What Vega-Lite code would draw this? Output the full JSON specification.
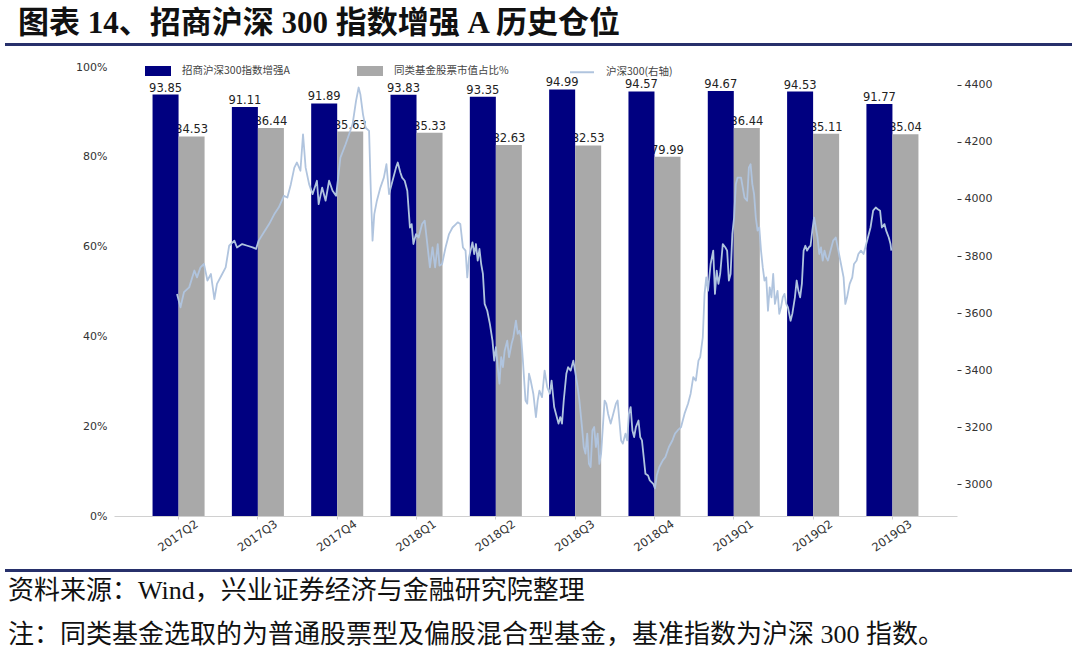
{
  "$schema": "https://vega.github.io/schema/vega-lite/v6.json",
  "background": "white",
  "padding": {"left": 5, "top": 8, "right": 3, "bottom": 0},
  "title": {"text": "图表 14、招商沪深 300 指数增强 A 历史仓位", "anchor": "start", "frame": "bounds", "dx": 13, "offset": 3, "fontSize": 31, "fontWeight": "bold", "font": "Liberation Serif, Noto Sans CJK SC", "color": "#111111"},
  "spacing": 15,
  "datasets": {
    "bars": [
      {"quarter": "2017Q2", "series": "招商沪深300指数增强A", "value": 93.85},
      {"quarter": "2017Q2", "series": "同类基金股票市值占比%", "value": 84.53},
      {"quarter": "2017Q3", "series": "招商沪深300指数增强A", "value": 91.11},
      {"quarter": "2017Q3", "series": "同类基金股票市值占比%", "value": 86.44},
      {"quarter": "2017Q4", "series": "招商沪深300指数增强A", "value": 91.89},
      {"quarter": "2017Q4", "series": "同类基金股票市值占比%", "value": 85.63},
      {"quarter": "2018Q1", "series": "招商沪深300指数增强A", "value": 93.83},
      {"quarter": "2018Q1", "series": "同类基金股票市值占比%", "value": 85.33},
      {"quarter": "2018Q2", "series": "招商沪深300指数增强A", "value": 93.35},
      {"quarter": "2018Q2", "series": "同类基金股票市值占比%", "value": 82.63},
      {"quarter": "2018Q3", "series": "招商沪深300指数增强A", "value": 94.99},
      {"quarter": "2018Q3", "series": "同类基金股票市值占比%", "value": 82.53},
      {"quarter": "2018Q4", "series": "招商沪深300指数增强A", "value": 94.57},
      {"quarter": "2018Q4", "series": "同类基金股票市值占比%", "value": 79.99},
      {"quarter": "2019Q1", "series": "招商沪深300指数增强A", "value": 94.67},
      {"quarter": "2019Q1", "series": "同类基金股票市值占比%", "value": 86.44},
      {"quarter": "2019Q2", "series": "招商沪深300指数增强A", "value": 94.53},
      {"quarter": "2019Q2", "series": "同类基金股票市值占比%", "value": 85.11},
      {"quarter": "2019Q3", "series": "招商沪深300指数增强A", "value": 91.77},
      {"quarter": "2019Q3", "series": "同类基金股票市值占比%", "value": 85.04}
    ],
    "hs300": [
      {"d":0,"v":3667},{"d":4,"v":3620},{"d":8,"v":3673},{"d":14,"v":3690},{"d":20,"v":3749},{"d":23,"v":3725},{"d":27,"v":3760},{"d":31,"v":3772},{"d":35,"v":3714},{"d":39,"v":3737},{"d":43,"v":3649},{"d":46,"v":3702},{"d":52,"v":3737},{"d":56,"v":3760},{"d":60,"v":3836},{"d":66,"v":3854},{"d":69,"v":3830},{"d":75,"v":3842},{"d":81,"v":3836},{"d":87,"v":3830},{"d":91,"v":3825},{"d":94,"v":3854},{"d":100,"v":3883},{"d":106,"v":3912},{"d":112,"v":3947},{"d":117,"v":3970},{"d":123,"v":4011},{"d":127,"v":4005},{"d":131,"v":4052},{"d":135,"v":4110},{"d":138,"v":4128},{"d":142,"v":4099},{"d":145,"v":4227},{"d":148,"v":4110},{"d":152,"v":4052},{"d":156,"v":4017},{"d":161,"v":4064},{"d":163,"v":3982},{"d":167,"v":4040},{"d":171,"v":3994},{"d":175,"v":4064},{"d":179,"v":4029},{"d":183,"v":4011},{"d":185,"v":4064},{"d":188,"v":4145},{"d":194,"v":4192},{"d":198,"v":4227},{"d":202,"v":4262},{"d":206,"v":4344},{"d":209,"v":4391},{"d":211,"v":4367},{"d":214,"v":4297},{"d":217,"v":4250},{"d":221,"v":4239},{"d":223,"v":4029},{"d":225,"v":3854},{"d":227,"v":3947},{"d":230,"v":3994},{"d":234,"v":4040},{"d":238,"v":4075},{"d":241,"v":4122},{"d":244,"v":4017},{"d":248,"v":4064},{"d":252,"v":4110},{"d":254,"v":4128},{"d":257,"v":4093},{"d":259,"v":4075},{"d":262,"v":4064},{"d":265,"v":4029},{"d":268,"v":3900},{"d":270,"v":3912},{"d":272,"v":3842},{"d":275,"v":3877},{"d":278,"v":3865},{"d":282,"v":3912},{"d":285,"v":3924},{"d":288,"v":3842},{"d":291,"v":3760},{"d":294,"v":3830},{"d":297,"v":3760},{"d":300,"v":3842},{"d":302,"v":3766},{"d":305,"v":3772},{"d":309,"v":3830},{"d":313,"v":3877},{"d":317,"v":3900},{"d":321,"v":3912},{"d":323,"v":3918},{"d":326,"v":3912},{"d":329,"v":3830},{"d":332,"v":3819},{"d":334,"v":3725},{"d":336,"v":3795},{"d":340,"v":3848},{"d":342,"v":3807},{"d":344,"v":3842},{"d":346,"v":3784},{"d":348,"v":3825},{"d":350,"v":3772},{"d":352,"v":3737},{"d":354,"v":3632},{"d":357,"v":3608},{"d":360,"v":3562},{"d":363,"v":3503},{"d":365,"v":3433},{"d":367,"v":3480},{"d":369,"v":3410},{"d":371,"v":3352},{"d":373,"v":3445},{"d":375,"v":3410},{"d":377,"v":3468},{"d":380,"v":3503},{"d":382,"v":3445},{"d":385,"v":3492},{"d":387,"v":3515},{"d":390,"v":3573},{"d":392,"v":3527},{"d":394,"v":3538},{"d":396,"v":3515},{"d":398,"v":3433},{"d":401,"v":3293},{"d":403,"v":3282},{"d":405,"v":3387},{"d":407,"v":3363},{"d":410,"v":3317},{"d":413,"v":3235},{"d":415,"v":3293},{"d":417,"v":3328},{"d":420,"v":3305},{"d":423,"v":3398},{"d":426,"v":3340},{"d":429,"v":3317},{"d":431,"v":3363},{"d":434,"v":3270},{"d":436,"v":3247},{"d":439,"v":3212},{"d":441,"v":3235},{"d":443,"v":3212},{"d":445,"v":3293},{"d":448,"v":3387},{"d":450,"v":3410},{"d":453,"v":3398},{"d":456,"v":3433},{"d":458,"v":3398},{"d":461,"v":3340},{"d":463,"v":3293},{"d":466,"v":3200},{"d":468,"v":3130},{"d":470,"v":3107},{"d":472,"v":3177},{"d":474,"v":3071},{"d":476,"v":3060},{"d":478,"v":3188},{"d":480,"v":3200},{"d":482,"v":3130},{"d":484,"v":3177},{"d":486,"v":3071},{"d":488,"v":3107},{"d":490,"v":3200},{"d":492,"v":3293},{"d":494,"v":3282},{"d":496,"v":3247},{"d":499,"v":3212},{"d":502,"v":3247},{"d":505,"v":3282},{"d":507,"v":3293},{"d":509,"v":3223},{"d":511,"v":3153},{"d":513,"v":3142},{"d":516,"v":3177},{"d":518,"v":3153},{"d":520,"v":3247},{"d":522,"v":3270},{"d":524,"v":3188},{"d":526,"v":3165},{"d":528,"v":3200},{"d":531,"v":3223},{"d":533,"v":3165},{"d":535,"v":3153},{"d":537,"v":3095},{"d":539,"v":3036},{"d":542,"v":3030},{"d":544,"v":3013},{"d":546,"v":3007},{"d":548,"v":3001},{"d":550,"v":2985},{"d":552,"v":3030},{"d":555,"v":3060},{"d":559,"v":3083},{"d":562,"v":3095},{"d":566,"v":3130},{"d":570,"v":3153},{"d":573,"v":3177},{"d":576,"v":3188},{"d":580,"v":3200},{"d":584,"v":3247},{"d":588,"v":3282},{"d":591,"v":3317},{"d":594,"v":3375},{"d":597,"v":3363},{"d":600,"v":3433},{"d":602,"v":3445},{"d":605,"v":3515},{"d":607,"v":3667},{"d":609,"v":3725},{"d":611,"v":3678},{"d":614,"v":3772},{"d":617,"v":3819},{"d":619,"v":3667},{"d":621,"v":3749},{"d":623,"v":3702},{"d":625,"v":3737},{"d":628,"v":3842},{"d":631,"v":3830},{"d":633,"v":3819},{"d":635,"v":3714},{"d":637,"v":3737},{"d":639,"v":3877},{"d":641,"v":3935},{"d":643,"v":4052},{"d":645,"v":4075},{"d":649,"v":4075},{"d":653,"v":4005},{"d":656,"v":3994},{"d":658,"v":4110},{"d":660,"v":4122},{"d":662,"v":4052},{"d":664,"v":4017},{"d":666,"v":3935},{"d":668,"v":3889},{"d":670,"v":3900},{"d":672,"v":3819},{"d":674,"v":3760},{"d":676,"v":3714},{"d":678,"v":3725},{"d":680,"v":3608},{"d":682,"v":3690},{"d":684,"v":3655},{"d":686,"v":3737},{"d":688,"v":3632},{"d":691,"v":3678},{"d":693,"v":3597},{"d":695,"v":3620},{"d":697,"v":3655},{"d":699,"v":3667},{"d":701,"v":3632},{"d":703,"v":3620},{"d":706,"v":3573},{"d":708,"v":3597},{"d":711,"v":3655},{"d":713,"v":3714},{"d":715,"v":3678},{"d":717,"v":3655},{"d":719,"v":3702},{"d":721,"v":3819},{"d":723,"v":3836},{"d":725,"v":3819},{"d":727,"v":3830},{"d":729,"v":3836},{"d":731,"v":3889},{"d":733,"v":3935},{"d":735,"v":3900},{"d":737,"v":3865},{"d":739,"v":3807},{"d":741,"v":3830},{"d":743,"v":3784},{"d":745,"v":3819},{"d":747,"v":3795},{"d":749,"v":3784},{"d":752,"v":3819},{"d":755,"v":3854},{"d":758,"v":3865},{"d":761,"v":3819},{"d":764,"v":3772},{"d":767,"v":3725},{"d":769,"v":3632},{"d":771,"v":3655},{"d":774,"v":3702},{"d":777,"v":3725},{"d":779,"v":3772},{"d":782,"v":3784},{"d":784,"v":3807},{"d":787,"v":3819},{"d":790,"v":3807},{"d":792,"v":3830},{"d":795,"v":3865},{"d":798,"v":3900},{"d":801,"v":3959},{"d":804,"v":3970},{"d":806,"v":3965},{"d":809,"v":3959},{"d":811,"v":3900},{"d":814,"v":3912},{"d":816,"v":3889},{"d":819,"v":3865},{"d":821,"v":3842},{"d":822,"v":3819}
    ],
    "rule": [{"k": 1}],
    "none": []
  },
  "vconcat": [
    {
      "width": 1067,
      "height": 3,
      "data": {"name": "rule"},
      "mark": {"type": "rect", "color": "#27306b"}
    },
    {
      "spacing": 0,
      "hconcat": [
        {
          "width": 70,
          "height": 449,
          "data": {"name": "none"},
          "mark": {"type": "rect", "opacity": 0}
        },
        {
          "width": 843,
          "height": 449,
          "layer": [
            {
              "data": {"name": "bars"},
              "encoding": {
                "x": {
                  "field": "quarter", "type": "nominal",
                  "scale": {"paddingInner": 0.344, "paddingOuter": 0.486},
                  "axis": {"title": null, "labelAngle": -35, "labelAlign": "center", "labelBaseline": "middle", "labelPadding": 17, "ticks": true, "tickSize": 3, "tickColor": "#d0d0d0", "domainColor": "#d0d0d0", "domainWidth": 1, "labelFontSize": 11.5, "labelColor": "#333333", "labelFont": "DejaVu Sans"}
                },
                "xOffset": {"field": "series", "type": "nominal", "sort": ["招商沪深300指数增强A", "同类基金股票市值占比%"], "scale": {"paddingInner": 0, "paddingOuter": 0}},
                "y": {
                  "field": "value", "type": "quantitative",
                  "scale": {"domain": [0, 100], "nice": false},
                  "axis": {"title": null, "values": [0, 20, 40, 60, 80, 100], "labelExpr": "datum.value + '%'", "domain": false, "ticks": false, "grid": false, "labelPadding": 7, "labelFontSize": 11, "labelColor": "#333333", "labelFont": "DejaVu Sans"}
                }
              },
              "layer": [
                {
                  "mark": {"type": "text", "baseline": "alphabetic", "dy": -3, "fontSize": 11.5, "font": "DejaVu Sans", "color": "#222222"},
                  "encoding": {"text": {"field": "value", "type": "quantitative", "format": ".2f"}}
                },
                {
                  "mark": {"type": "bar"},
                  "encoding": {
                    "color": {
                      "field": "series", "type": "nominal",
                      "scale": {"domain": ["招商沪深300指数增强A", "同类基金股票市值占比%", "沪深300(右轴)"], "range": ["#000080", "#a9a9a9", "#b0c4de"]},
                      "legend": {
                        "title": null, "orient": "none", "legendX": 140, "legendY": 15, "direction": "horizontal", "columns": 3, "gridAlign": "all", "columnPadding": 57, "padding": 0,
                        "symbolSize": 576, "labelFont": "Noto Sans CJK SC", "labelFontSize": 10.5, "labelColor": "#444444", "labelOffset": 11,
                        "encode": {
                          "symbols": {
                            "update": {
                              "shape": {"signal": "datum.value === '沪深300(右轴)' ? 'M-1,0H1' : 'M-1,-0.33H1V0.33H-1Z'"},
                              "fill": {"signal": "datum.value === '沪深300(右轴)' ? 'transparent' : scale('color', datum.value)"},
                              "stroke": {"signal": "datum.value === '沪深300(右轴)' ? scale('color', datum.value) : 'transparent'"},
                              "strokeWidth": {"value": 2},
                              "opacity": {"value": 1},
                              "fillOpacity": {"value": 1}
                            }
                          }
                        }
                      }
                    }
                  }
                }
              ]
            },
            {
              "data": {"name": "hs300"},
              "mark": {"type": "line", "strokeWidth": 1.8, "strokeJoin": "round"},
              "encoding": {
                "x": {"field": "d", "type": "quantitative", "scale": {"domain": [-72.5, 897.5], "nice": false, "zero": false}, "axis": null},
                "y": {
                  "field": "v", "type": "quantitative",
                  "scale": {"domain": [2888, 4463], "nice": false, "zero": false},
                  "axis": {"orient": "right", "title": null, "values": [3000, 3200, 3400, 3600, 3800, 4000, 4200, 4400], "format": "d", "domain": false, "ticks": true, "tickSize": 4, "tickColor": "#333333", "labelPadding": 3, "grid": false, "labelFontSize": 11, "labelColor": "#333333", "labelFont": "DejaVu Sans"}
                },
                "color": {"datum": "沪深300(右轴)"}
              }
            }
          ],
          "resolve": {"scale": {"x": "independent", "y": "independent"}}
        }
      ]
    },
    {
      "width": 1067,
      "height": 3,
      "data": {"name": "rule"},
      "mark": {"type": "rect", "color": "#27306b"},
      "title": {"text": ["资料来源：Wind，兴业证券经济与金融研究院整理", "注：同类基金选取的为普通股票型及偏股混合型基金，基准指数为沪深 300 指数。"], "orient": "bottom", "anchor": "start", "frame": "group", "dx": 3, "offset": 6, "fontSize": 26, "fontWeight": "normal", "font": "Liberation Serif, Noto Sans CJK SC", "lineHeight": 44, "color": "#111111"}
    }
  ],
  "config": {
    "view": {"stroke": null},
    "axis": {"grid": false}
  }
}
